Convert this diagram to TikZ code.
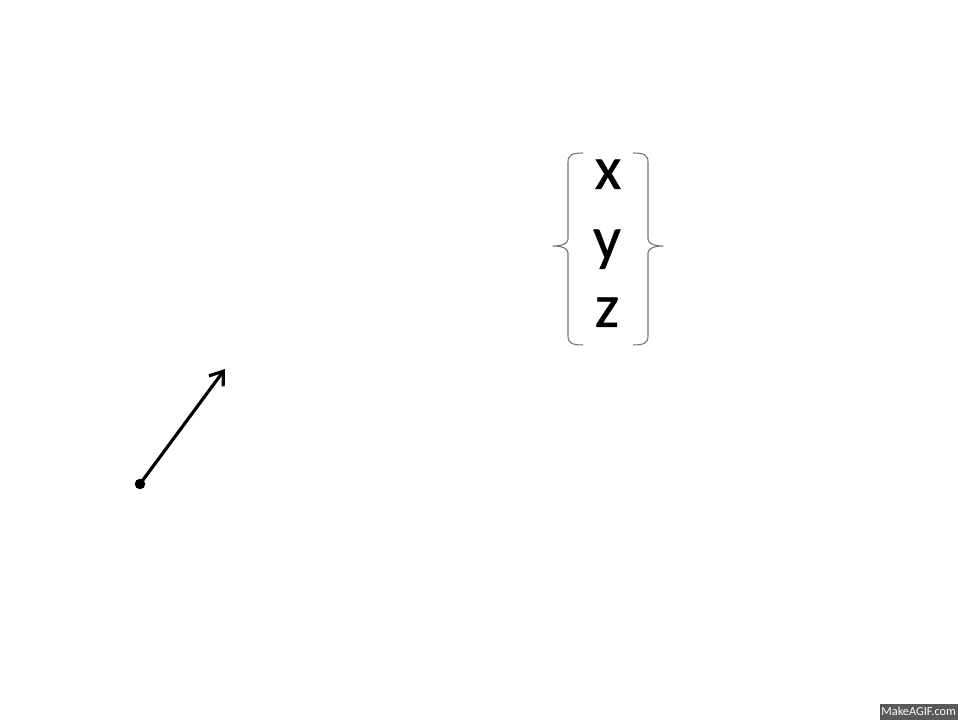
\documentclass[tikz,border=0pt]{standalone}
\usepackage{fontspec}
\setmainfont{Carlito}
\usetikzlibrary{arrows.meta}

\tikzset{
  comp/.style={inner sep=0pt, anchor=base,
    font=\fontsize{35}{40}\selectfont\addfontfeatures{FakeBold=0.6}},
  bracket/.style={draw=black!55, line width=0.6pt},
  point/.style={circle, fill=black, inner sep=0pt, minimum size=0.21cm}
}

\begin{document}
\begin{tikzpicture}[x=0.02cm, y=0.02cm]
    \useasboundingbox (0,0) rectangle (960,720);

    % column vector
    \node[comp] (cx) at (608,531) {x};
    \node[comp] (cy) at (607,461) {y};
    \node[comp] (cz) at (607,393) {z};

    % braces round it
    \draw[bracket] (583,567) .. controls (572,567) and (568,565) .. (568,558)
        -- (568,481) .. controls (568,476) and (561,474) .. (553,474)
        .. controls (561,474) and (568,472) .. (568,467)
        -- (568,384) .. controls (568,377) and (572,375) .. (583,375);
    \draw[bracket] (633,567) .. controls (644,567) and (648,565) .. (648,558)
        -- (648,481) .. controls (648,476) and (655,474) .. (663,474)
        .. controls (655,474) and (648,472) .. (648,467)
        -- (648,384) .. controls (648,377) and (644,375) .. (633,375);

    % arrow from a point
    \node[point] (p) at (140,236) {};
    \coordinate (tip) at (225,351);
    \draw[line width=1.8pt, -{Straight Barb[length=7pt, width=10pt]}] (p.center) -- (tip);

    % watermark
    \node[fill=black!65, text=white, inner sep=0pt, anchor=south east,
          minimum width=1.56cm, minimum height=0.32cm,
          font=\fontsize{7}{8}\selectfont] (mark) at (958,0) {MakeAGIF.com};
\end{tikzpicture}
\end{document}
